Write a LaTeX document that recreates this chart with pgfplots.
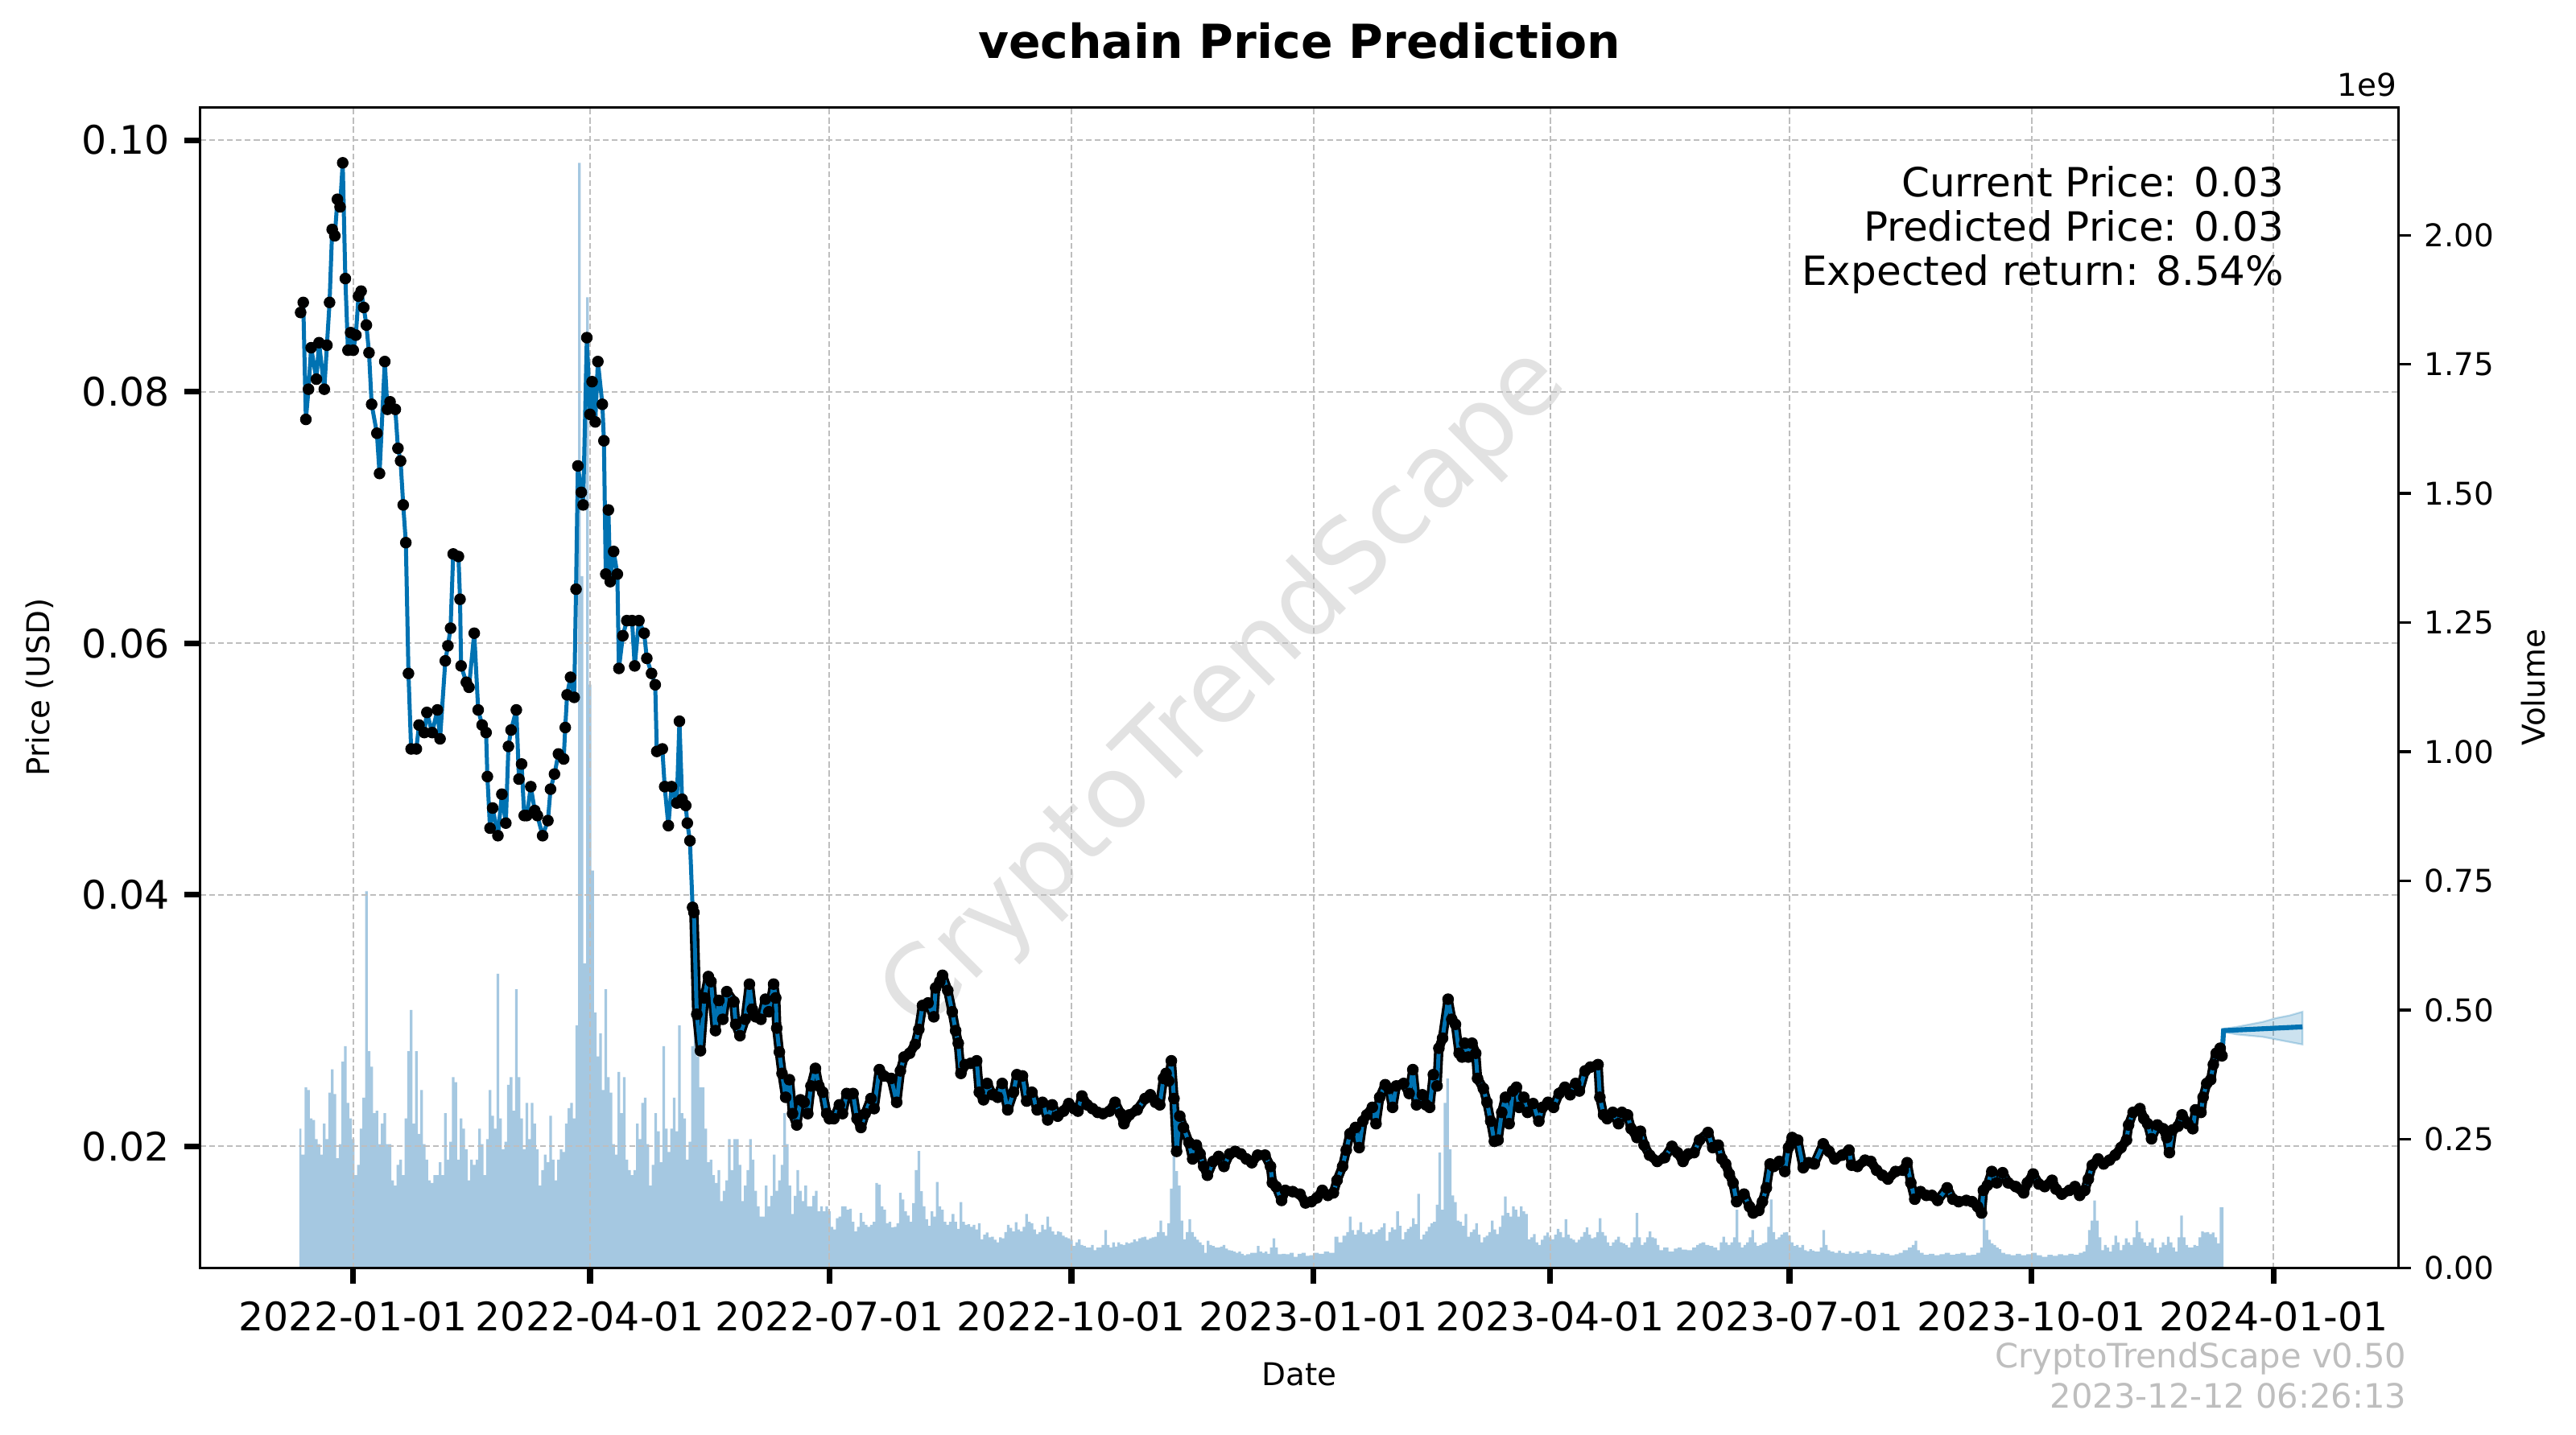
\documentclass[border=0pt]{standalone}
\usepackage{pgfplots}
\pgfplotsset{compat=1.18}
\usepackage{pgfplotstable}
\usepackage{fontspec}
\setmainfont{DejaVu Sans}
\definecolor{linec}{RGB}{0,114,178}
\definecolor{volc}{RGB}{31,119,180}
\definecolor{gridc}{RGB}{190,190,190}
\definecolor{wmc}{RGB}{226,226,226}
\definecolor{footc}{RGB}{190,190,190}

\pgfplotstableread{
day price
-20 0.0863
-19 0.0871
-18 0.0778
-17 0.0802
-16 0.0835
-14 0.0810
-13 0.0839
-11 0.0802
-10 0.0837
-9 0.0871
-8 0.0929
-7 0.0924
-6 0.0953
-5 0.0947
-4 0.0982
-3 0.0890
-2 0.0833
-1 0.0847
0 0.0833
1 0.0845
2 0.0876
3 0.0880
4 0.0867
5 0.0853
6 0.0831
7 0.0790
9 0.0767
10 0.0735
12 0.0824
13 0.0786
14 0.0792
16 0.0786
17 0.0755
18 0.0745
19 0.0710
20 0.0680
21 0.0576
22 0.0516
24 0.0516
25 0.0535
27 0.0529
28 0.0545
30 0.0529
32 0.0547
33 0.0524
35 0.0586
36 0.0598
37 0.0612
38 0.0671
40 0.0669
40.6 0.0635
41 0.0582
43 0.0569
44 0.0565
46 0.0608
47.5 0.0547
49 0.0535
50.5 0.0529
51 0.0494
52 0.0453
53 0.0469
55 0.0447
56.5 0.0480
58 0.0457
59 0.0518
60 0.0531
62 0.0547
63 0.0492
64 0.0504
65 0.0463
66 0.0463
67.5 0.0486
69 0.0467
70 0.0463
72 0.0447
74 0.0459
75 0.0484
76.5 0.0496
78 0.0512
80 0.0508
80.6 0.0533
81.3 0.0559
82.6 0.0573
84 0.0557
84.7 0.0643
85.4 0.0741
86.7 0.0720
87.4 0.0710
88.8 0.0843
90 0.0782
90.8 0.0808
92 0.0776
93 0.0824
94.7 0.0790
95.3 0.0761
96 0.0655
97 0.0706
97.7 0.0649
99 0.0673
100.4 0.0655
101 0.0580
102.5 0.0606
104 0.0618
106 0.0618
107 0.0582
108.6 0.0618
110.6 0.0608
111.6 0.0588
113.4 0.0576
114.8 0.0567
115.4 0.0514
117.5 0.0516
118.4 0.0486
119.8 0.0455
121 0.0486
123 0.0473
124 0.0538
125 0.0476
126.4 0.0471
127 0.0457
128 0.0443
129 0.0390
129.5 0.0386
130.6 0.0305
132 0.0276
133.5 0.0318
135 0.0335
136 0.0331
137.7 0.0292
139 0.0316
140.5 0.0301
142 0.0323
144.7 0.0315
145.4 0.0297
147 0.0288
149 0.0301
150.6 0.0329
151.7 0.0309
153 0.0303
155 0.0301
156.7 0.0317
158 0.0307
159.8 0.0329
160.6 0.0318
161 0.0294
162 0.0275
163 0.0258
164.4 0.0239
165.8 0.0253
167 0.0226
168.6 0.0217
170 0.0237
171.4 0.0235
172.8 0.0226
174 0.0248
175.7 0.0262
177 0.0248
178.5 0.0243
180 0.0226
181 0.0222
182.7 0.0222
184.8 0.0233
186 0.0226
187.6 0.0242
190 0.0242
191.5 0.0222
193 0.0215
194.6 0.0226
196.8 0.0238
198 0.0230
200 0.0261
201.7 0.0256
204.5 0.0254
206.6 0.0235
208 0.0260
209.4 0.0271
211.5 0.0274
213.6 0.0281
215 0.0293
216.4 0.0312
218.5 0.0314
220.7 0.0303
221.4 0.0326
223 0.0331
224 0.0336
226 0.0324
227.7 0.0307
229 0.0292
230 0.0282
231 0.0258
232.6 0.0265
234.7 0.0266
237 0.0268
238 0.0243
239.6 0.0237
241 0.0250
243 0.0241
245 0.0239
246.7 0.0250
248.8 0.0229
251 0.0243
252.3 0.0257
254.4 0.0256
256 0.0236
258 0.0243
260 0.0229
262 0.0235
264 0.0221
265.7 0.0233
267.8 0.0224
270 0.0228
272 0.0234
274 0.0230
275.5 0.0228
277 0.0240
279 0.0233
281 0.0230
283 0.0227
285 0.0226
287.5 0.0228
289.6 0.0235
291.7 0.0226
293 0.0218
295 0.0225
298 0.0229
301 0.0238
303 0.0241
305 0.0235
306.6 0.0233
308 0.0254
309 0.0258
310 0.0252
311 0.0268
312 0.0238
313 0.0196
314.2 0.0224
315.6 0.0215
317.7 0.0203
319.1 0.0190
320.5 0.0201
321.9 0.0194
323.3 0.0184
324.7 0.0177
326.9 0.0188
329 0.0192
331 0.0184
333.2 0.0194
335.3 0.0196
337.4 0.0194
339.5 0.0190
341.6 0.0187
343.8 0.0193
346.6 0.0193
348.7 0.0184
349.4 0.0171
350.8 0.0168
352.9 0.0157
354.3 0.0165
357.1 0.0164
359.9 0.0162
362 0.0155
364.2 0.0156
366.3 0.0159
368.4 0.0165
370.5 0.0161
372.6 0.0163
374 0.0173
376.1 0.0184
377.5 0.0197
378.9 0.0210
381 0.0215
382.4 0.0199
383.8 0.0220
385.3 0.0225
387.4 0.0231
388.8 0.0218
390.2 0.0239
392.3 0.0249
393.7 0.0246
395.1 0.0231
396.5 0.0248
399.3 0.0250
401.4 0.0242
402.8 0.0261
404.2 0.0233
406.4 0.0241
407.8 0.0233
409.2 0.0231
410.6 0.0257
412 0.0248
412.7 0.0278
414.1 0.0286
416.2 0.0317
417.6 0.0301
419 0.0297
420.4 0.0274
421.5 0.0271
422.5 0.0282
423.9 0.0271
425.3 0.0282
426.7 0.0274
427.4 0.0254
429.6 0.0246
431 0.0235
432.4 0.0220
433.8 0.0204
435.2 0.0205
436.6 0.0227
438 0.0239
439.4 0.0218
440.8 0.0244
442.2 0.0247
443.2 0.0231
445 0.0239
446.4 0.0227
448.5 0.0234
450.7 0.0220
452.1 0.0231
454.2 0.0235
456.3 0.0231
458.4 0.0242
460.6 0.0247
462.6 0.0241
464.7 0.0250
466.1 0.0244
468.3 0.0260
470.3 0.0263
473.2 0.0265
473.9 0.0239
475.3 0.0225
476.7 0.0222
478.8 0.0227
481 0.0218
482.3 0.0227
484.4 0.0225
485.8 0.0214
488 0.0207
489.3 0.0212
490.7 0.0201
492.8 0.0193
495.7 0.0188
498.5 0.0191
501.3 0.0200
503.4 0.0195
505.5 0.0188
507.6 0.0194
509.7 0.0195
511.8 0.0205
515 0.0211
516.8 0.0199
518.9 0.0201
520.3 0.0190
521.7 0.0186
523.1 0.0178
524.5 0.0171
525.9 0.0156
528.7 0.0162
530.8 0.0152
532.2 0.0147
534.3 0.0149
535.7 0.0156
537.2 0.0167
538.6 0.0186
540 0.0184
542.1 0.0188
544.2 0.0180
545.6 0.0199
547 0.0207
549.1 0.0205
551.2 0.0183
553.3 0.0187
555.4 0.0186
558.8 0.0202
561 0.0196
563.2 0.0190
566 0.0193
568.6 0.0197
569.6 0.0185
571.8 0.0184
574.7 0.0189
576.9 0.0188
579.1 0.0181
581.3 0.0177
583.4 0.0174
586.3 0.0180
589.2 0.0181
590.7 0.0187
592.1 0.0171
593.6 0.0158
595.8 0.0164
598 0.0161
600.1 0.0161
602.3 0.0157
605.9 0.0167
608.1 0.0158
610.3 0.0156
613.2 0.0157
615.4 0.0156
617.5 0.0152
619 0.0147
619.7 0.0165
621.2 0.0169
622.9 0.0180
624.8 0.0171
627 0.0179
629.1 0.0171
632 0.0168
635 0.0163
636.4 0.0171
638.6 0.0178
640.8 0.0170
643 0.0168
645.8 0.0173
647.3 0.0166
649.5 0.0162
652.4 0.0165
654.5 0.0168
656.3 0.0161
658.2 0.0165
659.6 0.0174
661.1 0.0185
663.3 0.0190
665.4 0.0186
667.6 0.0189
669.8 0.0193
672 0.0199
674.1 0.0205
674.9 0.0217
676.6 0.0227
679.2 0.0230
680.7 0.0222
682.1 0.0218
683.6 0.0206
685.8 0.0217
688 0.0214
689.4 0.0207
690.4 0.0195
691.6 0.0213
693.7 0.0216
695.2 0.0225
697.4 0.0218
699.3 0.0214
700.3 0.0229
702.4 0.0227
703.2 0.0239
704.6 0.0250
706.1 0.0253
707.1 0.0265
708.2 0.0274
709.7 0.0278
710.4 0.0272
}\pricetable

\pgfplotstableread{
day vol
-20.5 0.27
-19 0.22
-18 0.35
-17 0.345
-16 0.29
-15 0.287
-14 0.25
-13 0.24
-12 0.22
-11 0.28
-10 0.25
-9 0.34
-8 0.385
-7 0.337
-6 0.213
-5 0.24
-4 0.40
-3 0.43
-2 0.32
-1 0.29
0 0.25
1 0.18
2 0.20
3 0.27
4 0.33
5 0.73
6 0.42
7 0.39
8 0.30
9 0.305
10 0.24
11 0.28
12 0.30
13 0.24
14 0.24
15 0.17
16 0.16
17 0.20
18 0.21
19 0.18
20 0.29
21 0.42
22 0.50
23 0.28
24 0.42
25 0.26
26 0.345
27 0.24
28 0.21
29 0.17
30 0.165
31 0.18
32 0.18
33 0.205
34 0.18
35 0.30
36 0.21
37 0.245
38 0.37
39 0.36
40 0.21
41 0.29
42 0.27
43 0.23
44 0.17
45 0.21
46 0.20
47 0.21
48 0.27
49 0.24
50 0.18
51 0.25
52 0.345
53 0.295
54 0.27
55 0.57
56 0.29
57 0.23
58 0.245
59 0.355
60 0.37
61 0.305
62 0.54
63 0.37
64 0.29
65 0.23
66 0.32
67 0.25
68 0.32
69 0.28
70 0.23
71 0.16
72 0.19
73 0.22
74 0.205
75 0.295
76 0.21
77 0.17
78 0.21
79 0.23
80 0.225
81 0.28
82 0.31
83 0.32
84 0.29
85 0.47
86 2.14
87 1.34
88 0.59
89 1.88
90 1.13
91 0.77
92 0.495
93 0.41
94 0.455
95 0.345
96 0.54
97 0.37
98 0.34
99 0.24
100 0.22
101 0.38
102 0.30
103 0.37
104 0.21
105 0.19
106 0.18
107 0.19
108 0.28
109 0.25
110 0.32
111 0.33
112 0.24
113 0.16
114 0.20
115 0.30
116 0.265
117 0.205
118 0.43
119 0.27
120 0.225
121 0.27
122 0.33
123 0.265
124 0.47
125 0.30
126 0.29
127 0.21
128 0.245
129 0.43
130 0.51
131 0.41
132 0.35
133 0.35
134 0.27
135 0.205
136 0.21
137 0.18
138 0.165
139 0.19
140 0.13
141 0.15
142 0.17
143 0.25
144 0.19
145 0.25
146 0.25
147 0.20
148 0.13
149 0.16
150 0.19
151 0.25
152 0.21
153 0.15
154 0.12
155 0.10
156 0.10
157 0.16
158 0.12
159 0.14
160 0.22
161 0.15
162 0.17
163 0.20
164 0.30
165 0.24
166 0.16
167 0.105
168 0.14
169 0.19
170 0.15
171 0.13
172 0.16
173 0.12
174 0.12
175 0.14
176 0.15
177 0.11
178 0.12
179 0.11
180 0.12
181 0.11
182 0.08
183 0.075
184 0.097
185 0.10
186 0.12
187 0.12
188 0.113
189 0.115
190 0.09
191 0.071
192 0.08
193 0.107
194 0.09
195 0.084
196 0.08
197 0.084
198 0.09
199 0.165
200 0.162
201 0.12
202 0.113
203 0.087
204 0.09
205 0.079
206 0.08
207 0.087
208 0.146
209 0.133
210 0.11
211 0.102
212 0.09
213 0.126
214 0.19
215 0.227
216 0.149
217 0.12
218 0.095
219 0.082
220 0.11
221 0.10
222 0.167
223 0.12
224 0.113
225 0.09
226 0.084
227 0.09
228 0.105
229 0.09
230 0.076
231 0.128
232 0.09
233 0.084
234 0.085
235 0.08
236 0.084
237 0.075
238 0.087
239 0.056
240 0.065
241 0.069
242 0.06
243 0.061
244 0.055
245 0.05
246 0.06
247 0.058
248 0.07
249 0.084
250 0.078
251 0.071
252 0.089
253 0.075
254 0.071
255 0.08
256 0.105
257 0.09
258 0.087
259 0.075
260 0.066
261 0.07
262 0.084
263 0.075
264 0.1
265 0.08
266 0.071
267 0.065
268 0.071
269 0.07
270 0.063
271 0.06
272 0.058
273 0.055
274 0.043
275 0.05
276 0.056
277 0.045
278 0.043
279 0.04
280 0.04
281 0.045
282 0.035
283 0.04
284 0.04
285 0.045
286 0.074
287 0.045
288 0.04
289 0.05
290 0.042
291 0.05
292 0.046
293 0.045
294 0.05
295 0.048
296 0.05
297 0.056
298 0.052
299 0.058
300 0.06
301 0.061
302 0.055
303 0.058
304 0.06
305 0.061
306 0.07
307 0.092
308 0.07
309 0.063
310 0.087
311 0.154
312 0.217
313 0.188
314 0.16
315 0.092
316 0.056
317 0.07
318 0.095
319 0.07
320 0.061
321 0.055
322 0.05
323 0.045
324 0.03
325 0.053
326 0.045
327 0.043
328 0.04
329 0.04
330 0.042
331 0.045
332 0.038
333 0.035
334 0.034
335 0.032
336 0.03
337 0.032
338 0.028
339 0.025
340 0.027
342 0.03
343 0.03
344 0.043
345 0.032
346 0.03
347 0.032
348 0.028
349 0.04
350 0.058
351 0.04
352 0.027
354 0.028
355 0.027
357 0.03
358 0.022
360 0.028
361 0.03
363 0.024
364 0.025
366 0.03
368 0.028
370 0.032
372 0.03
374 0.061
375 0.05
377 0.063
378 0.07
379 0.10
380 0.074
381 0.065
382 0.074
383 0.089
384 0.07
385 0.066
386 0.069
387 0.075
388 0.066
389 0.07
390 0.075
391 0.079
392 0.087
393 0.053
394 0.07
395 0.079
396 0.075
397 0.11
398 0.082
399 0.056
400 0.07
401 0.076
402 0.08
403 0.097
404 0.085
405 0.144
406 0.056
407 0.065
408 0.071
409 0.08
410 0.087
411 0.09
412 0.123
413 0.224
414 0.113
415 0.32
416 0.367
417 0.23
418 0.141
419 0.128
420 0.092
421 0.09
422 0.082
423 0.105
424 0.061
425 0.07
426 0.075
427 0.087
428 0.065
429 0.05
430 0.06
431 0.063
432 0.07
433 0.092
434 0.075
435 0.066
436 0.08
437 0.102
438 0.139
439 0.107
440 0.1
441 0.12
442 0.113
443 0.1
444 0.12
445 0.11
446 0.105
447 0.056
448 0.06
449 0.066
450 0.05
451 0.045
452 0.055
453 0.063
454 0.069
455 0.06
456 0.056
457 0.065
458 0.076
459 0.07
460 0.06
461 0.095
462 0.065
463 0.058
464 0.055
465 0.05
466 0.055
467 0.061
468 0.07
469 0.079
470 0.065
471 0.058
472 0.06
473 0.07
474 0.097
475 0.07
476 0.063
477 0.05
478 0.043
479 0.05
480 0.055
481 0.061
482 0.05
483 0.048
484 0.045
485 0.04
486 0.05
487 0.06
488 0.107
489 0.06
490 0.045
491 0.05
492 0.06
493 0.071
494 0.06
495 0.058
496 0.045
497 0.035
499 0.04
501 0.032
503 0.038
504 0.04
506 0.036
508 0.035
510 0.04
511 0.045
512 0.048
513 0.05
515 0.045
516 0.043
518 0.04
519 0.035
520 0.05
521 0.061
522 0.05
523 0.045
524 0.05
525 0.06
526 0.113
527 0.05
528 0.04
529 0.045
530 0.05
531 0.06
532 0.074
533 0.05
534 0.043
535 0.045
536 0.048
537 0.05
538 0.08
539 0.133
540 0.07
541 0.056
542 0.06
543 0.065
544 0.069
545 0.07
546 0.063
547 0.05
548 0.043
549 0.045
550 0.04
551 0.045
552 0.035
553 0.033
554 0.037
555 0.034
556 0.032
557 0.032
558 0.04
559 0.074
560 0.045
561 0.035
562 0.032
564 0.03
565 0.034
566 0.03
568 0.028
569 0.033
570 0.03
572 0.032
573 0.028
575 0.03
576 0.035
578 0.028
580 0.026
581 0.03
583 0.028
585 0.025
587 0.027
588 0.03
590 0.035
592 0.04
593 0.045
594 0.053
595 0.035
596 0.03
598 0.026
600 0.028
602 0.025
604 0.027
606 0.03
608 0.026
610 0.028
612 0.03
614 0.025
616 0.026
618 0.03
619 0.04
620 0.097
621 0.074
622 0.055
623 0.048
624 0.045
625 0.04
626 0.037
627 0.03
629 0.027
631 0.025
633 0.028
635 0.025
637 0.027
639 0.03
641 0.025
643 0.022
645 0.026
647 0.024
649 0.027
651 0.025
653 0.028
655 0.026
657 0.03
658 0.032
659 0.045
660 0.074
661 0.092
662 0.131
663 0.092
664 0.06
665 0.035
666 0.045
667 0.04
668 0.032
669 0.045
670 0.063
671 0.05
672 0.035
673 0.045
674 0.058
675 0.05
676 0.045
677 0.06
678 0.092
679 0.07
680 0.058
681 0.05
682 0.043
683 0.05
684 0.058
685 0.04
686 0.03
687 0.04
688 0.05
689 0.045
690 0.061
691 0.05
692 0.04
693 0.032
694 0.06
695 0.102
696 0.06
697 0.045
698 0.04
699 0.04
700 0.045
701 0.043
702 0.06
703 0.071
704 0.069
705 0.07
706 0.066
707 0.069
708 0.06
709 0.048
710 0.118
711 0.118
}\voltable

\begin{document}
\begin{tikzpicture}
\useasboundingbox (0,0) rectangle (1152pt,641.88pt);
\fill[white] (0,0) rectangle (1152pt,641.88pt);
% watermark
\node[rotate=45, text=wmc, font=\fontsize{45}{50}\selectfont] at (548pt,333pt) {CryptoTrendScape};

% volume axis (right)
\begin{axis}[
  at={(89.5pt,74.6pt)}, anchor=south west,
  width=983pt, height=519.3pt, scale only axis,
  xmin=-58.2, xmax=777.4, ymin=0, ymax=2.2478,
  axis y line*=right, axis x line=none,
  ytick={0,0.25,0.5,0.75,1,1.25,1.5,1.75,2},
  scaled y ticks=false,
  yticklabel={\pgfmathprintnumber[fixed,fixed zerofill,precision=2]{\tick}},
  /pgf/number format/assume math mode=true,
  yticklabel style={font=\fontsize{14}{16}\selectfont, anchor=west, inner sep=0pt, xshift=5.8pt},
  tick align=outside, major tick length=5.6pt,
  ytick style={line width=1.2pt, black},
  axis line style={line width=1.2pt},
]
\addplot[fill=volc, fill opacity=0.4, draw=none, const plot mark mid] table[x=day,y=vol] {\voltable} \closedcycle;
\end{axis}

% price axis (left)
\begin{axis}[
  at={(89.5pt,74.6pt)}, anchor=south west,
  width=983pt, height=519.3pt, scale only axis,
  xmin=-58.2, xmax=777.4, ymin=0.01031, ymax=0.10262,
  xtick={0,90,181,273,365,455,546,638,730},
  xticklabels={2022-01-01,2022-04-01,2022-07-01,2022-10-01,2023-01-01,2023-04-01,2023-07-01,2023-10-01,2024-01-01},
  ytick={0.02,0.04,0.06,0.08,0.10},
  scaled y ticks=false,
  yticklabel={\pgfmathprintnumber[fixed,fixed zerofill,precision=2]{\tick}},
  /pgf/number format/assume math mode=true,
  xtick pos=left, ytick pos=left,
  tick align=outside, major tick length=6.9pt,
  tick style={line width=2.6pt, black},
  axis line style={line width=1.2pt},
  xticklabel style={font=\fontsize{17.6}{20}\selectfont, anchor=north, inner sep=0pt, yshift=-7.9pt},
  yticklabel style={font=\fontsize{17.6}{20}\selectfont, anchor=east, inner sep=0pt, xshift=-6.5pt},
  grid=major,
  grid style={gridc, line width=0.7pt, dash pattern=on 2.6pt off 1.4pt},
]
% black outline where the daily dots merge into a band
\addplot[black, line width=4.2pt, line join=round, restrict x to domain=129.5:711] table[x=day,y=price] {\pricetable};
\addplot[only marks, mark=*, mark size=2.4pt, black] table[x=day,y=price] {\pricetable};
\addplot[linec, line width=1.8pt, line join=round] table[x=day,y=price] {\pricetable};
\addplot[fill=linec, fill opacity=0.2, draw=linec, draw opacity=0.25, line width=0.8pt] coordinates {
 (711,0.02935) (716,0.0295) (721,0.0297) (726,0.0299) (731,0.0302) (736,0.0304) (741,0.0307)
 (741,0.0281) (736,0.0283) (731,0.0285) (726,0.0287) (721,0.0288) (716,0.0289) (711,0.0291)
} -- cycle;
\addplot[linec, line width=2.2pt] coordinates {(710.4,0.0272) (711,0.0292) (741,0.0295)};
\end{axis}

% texts
\node[anchor=base, font=\bfseries\fontsize{21}{25}\selectfont] at (581pt,615.6pt) {vechain Price Prediction};
\node[anchor=base east, inner sep=0pt, font=\fontsize{18}{21}\selectfont] at (1021.6pt,553.7pt) {Current Price: 0.03};
\node[anchor=base east, inner sep=0pt, font=\fontsize{18}{21}\selectfont] at (1021.6pt,533.9pt) {Predicted Price: 0.03};
\node[anchor=base east, inner sep=0pt, font=\fontsize{18}{21}\selectfont] at (1021.6pt,514.1pt) {Expected return: 8.54\%};
\node[anchor=base east, inner sep=0pt, font=\fontsize{14}{16}\selectfont] at (1072pt,598.7pt) {1e9};
\node[anchor=base, font=\fontsize{14}{16}\selectfont] at (581pt,22pt) {Date};
\node[rotate=90, font=\fontsize{14}{16}\selectfont] at (17.6pt,334.4pt) {Price (USD)};
\node[rotate=90, font=\fontsize{14}{16}\selectfont] at (1132.9pt,334.4pt) {Volume};
\node[anchor=base east, inner sep=0pt, text=footc, font=\fontsize{15}{17}\selectfont] at (1076.4pt,29.9pt) {CryptoTrendScape v0.50};
\node[anchor=base east, inner sep=0pt, text=footc, font=\fontsize{15}{17}\selectfont] at (1076.4pt,12.2pt) {2023-12-12 06:26:13};
\end{tikzpicture}
\end{document}
